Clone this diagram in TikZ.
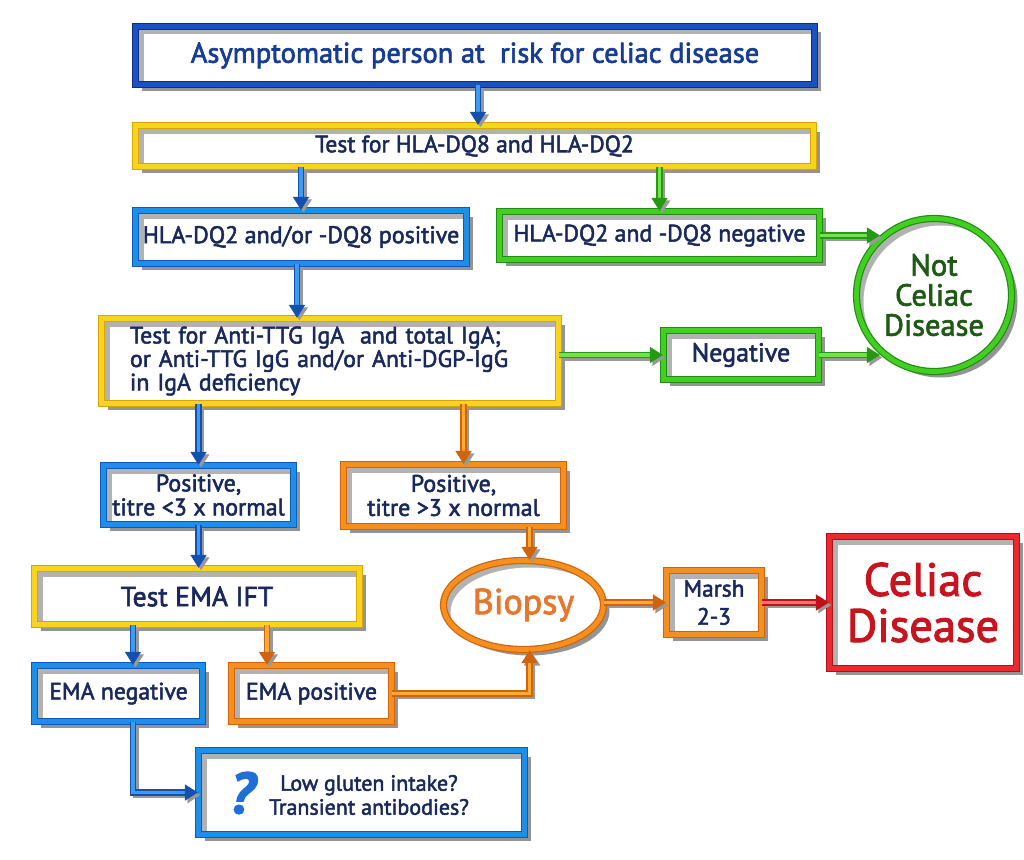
\documentclass[tikz,border=0pt]{standalone}
\usepackage{fontspec}
\setmainfont{PT Sans}[FakeBold=2.2]
\usetikzlibrary{arrows.meta,shapes.geometric,calc,shadows}
\definecolor{navy}{HTML}{19295C}
\definecolor{topblueB}{HTML}{1A52C2}
\definecolor{topblueD}{HTML}{0B2E86}
\definecolor{blueB}{HTML}{1E8EEB}
\definecolor{blueD}{HTML}{0C5BB8}
\definecolor{yelB}{HTML}{FAD320}
\definecolor{yelD}{HTML}{D9A600}
\definecolor{grnB}{HTML}{42CF22}
\definecolor{grnD}{HTML}{1E8E10}
\definecolor{orgB}{HTML}{F5901F}
\definecolor{orgD}{HTML}{D2620C}
\definecolor{redB}{HTML}{EA2A2E}
\definecolor{redD}{HTML}{B0101A}
\definecolor{blueL}{HTML}{3C9CF2}
\definecolor{blueA}{HTML}{1450B0}
\definecolor{grnL}{HTML}{74E24C}
\definecolor{grnA}{HTML}{239A12}
\definecolor{orgL}{HTML}{FFAA35}
\definecolor{orgA}{HTML}{D0640C}
\definecolor{redL}{HTML}{FF7070}
\definecolor{redA}{HTML}{C01018}
\definecolor{topText}{HTML}{163C95}
\definecolor{grnText}{HTML}{1E5A14}
\definecolor{orgText}{HTML}{E8772E}
\definecolor{redText}{HTML}{C8141E}
\definecolor{qBlue}{HTML}{1F6FD6}
\newcommand\fsz[2]{\fontsize{#1}{#2}\selectfont}
\tikzset{
  box/.style={rectangle, draw=#1D, double=#1B, line width=1.2pt, double distance=4.8pt,
    fill=white, inner sep=0pt, text=navy, align=center,
    drop shadow={shadow xshift=6pt, shadow yshift=-6pt, fill=black!42, opacity=1},
    path picture={\fill[black!30] (path picture bounding box.south west) rectangle (path picture bounding box.north east);
      \fill[white] ([shift={(8pt,-8pt)}]path picture bounding box.north west) rectangle (path picture bounding box.south east);}},
  ell/.style n args={3}{ellipse, draw=#1D, double=#1B, line width=1.2pt, double distance=4.8pt,
    fill=white, inner sep=0pt, align=center, minimum width=#2, minimum height=#3,
    drop shadow={shadow xshift=6pt, shadow yshift=-6pt, fill=black!42, opacity=1},
    path picture={\fill[black!30] (path picture bounding box.south west) rectangle (path picture bounding box.north east);
      \fill[white] ([shift={(7pt,-7pt)}]path picture bounding box.center) ellipse [x radius=#2/2, y radius=#3/2];}},
  conn/.style={draw=#1A, double=#1L, line width=1.2pt, double distance=3.8pt,
    -{Triangle[length=13pt,width=16pt]},
    preaction={draw=black!40, line width=6pt, transform canvas={shift={(2.5pt,-2.5pt)}}}},
}
\begin{document}
\begin{tikzpicture}[x=1pt,y=-1pt]
\useasboundingbox (0,0) rectangle (1024,859);
% boxes
\node[box=topblue, minimum width=679pt, minimum height=58pt, text=topText, font=\fsz{28.5}{32}] (b1) at (475,55.5) {Asymptomatic person at~ risk for celiac disease};
\node[box=yel, minimum width=678pt, minimum height=41pt, font=\fsz{23.6}{26}] (b2) at (474.5,146) {Test for HLA-DQ8 and HLA-DQ2};
\node[box=blue, minimum width=331pt, minimum height=53pt, font=\fsz{24}{26}] (b3) at (301,237) {HLA-DQ2 and/or -DQ8 positive};
\node[box=grn, minimum width=320pt, minimum height=48pt, font=\fsz{23.8}{26}] (b4) at (659.5,235.5) {HLA-DQ2 and -DQ8 negative};
\node[ell={grn}{155pt}{153pt}, text=grnText, font=\fsz{30.5}{30}] (circ) at (934,295) {Not\\Celiac\\Disease};
\node[box=yel, minimum width=457pt, minimum height=85pt, font=\fsz{23.8}{23.5}, align=left, text width=400pt] (b5) at (330,361) {Test for Anti-TTG IgA~ and total IgA;\\or Anti-TTG IgG and/or Anti-DGP-IgG\\in IgA deficiency};
\node[box=grn, minimum width=155pt, minimum height=49pt, font=\fsz{26}{26}] (b6) at (741,355) {Negative};
\node[box=blue, minimum width=190pt, minimum height=59pt, font=\fsz{24}{24}] (b7) at (198.5,495) {Positive,\\titre <3 x normal};
\node[box=org, minimum width=220pt, minimum height=62pt, font=\fsz{24}{24}] (b8) at (453.5,495.5) {Positive,\\titre >3 x normal};
\node[box=yel, minimum width=325pt, minimum height=56pt, font=\fsz{27.7}{30}] (b9) at (197,596.5) {Test EMA IFT};
\node[ell={org}{160pt}{89pt}, text=orgText, font=\fsz{36}{38}] (bio) at (523.5,605) {Biopsy};
\node[box=org, minimum width=95pt, minimum height=64pt, font=\fsz{23.5}{28}] (marsh) at (714,602.5) {Marsh\\2-3};
\node[box=red, minimum width=187pt, minimum height=132pt, text=redText, font=\fsz{46.5}{46}] (cel) at (923,602.5) {Celiac\\Disease};
\node[box=blue, minimum width=168pt, minimum height=56pt, font=\fsz{23.7}{26}] (b10) at (118.5,693.5) {EMA negative};
\node[box=org, minimum width=160pt, minimum height=56pt, font=\fsz{23.7}{26}] (b11) at (311.5,693.5) {EMA positive};
\node[box=blue, minimum width=326pt, minimum height=84pt] (b12) at (361.5,792.5) {};
\node[text=qBlue, font=\fsz{58}{58}\bfseries\itshape] (q) at (242,793) {?};
\node[text=navy, font=\fsz{22}{24}, align=center] (t12) at (369,795) {Low gluten intake?\\Transient antibodies?};
% connectors
\draw[conn=blue] ([xshift=3pt]b1.south) -- ([xshift=3pt]b1.south |- b2.north);
\draw[conn=blue] (b3.north |- b2.south) -- (b3.north);
\draw[conn=grn] (b4.north |- b2.south) -- (b4.north);
\draw[conn=grn] (b4.east) -- ($(b4.east -| circ.west)+(24,0)$);
\draw[conn=blue] ([xshift=-4pt]b3.south) -- ([xshift=-4pt]b3.south |- b5.north);
\draw[conn=grn] (b5.east |- b6.west) -- (b6.west);
\draw[conn=grn] (b6.east) -- ($(b6.east -| circ.west)+(24,0)$);
\draw[conn=blue] (b7.north |- b5.south) -- (b7.north);
\draw[conn=org] ([xshift=10pt]b8.north |- b5.south) -- ([xshift=10pt]b8.north);
\draw[conn=blue] (b7.south) -- (b7.south |- b9.north);
\draw[conn=org] ([xshift=6pt]bio.north |- b8.south) -- ([xshift=6pt]bio.north);
\draw[conn=org] (b11.east) -| ([xshift=6pt]bio.south);
\draw[conn=blue] ([xshift=14.5pt]b10.north |- b9.south) -- ([xshift=14.5pt]b10.north);
\draw[conn=org] ([xshift=-44.5pt]b11.north |- b9.south) -- ([xshift=-44.5pt]b11.north);
\draw[conn=blue] ([xshift=14.5pt]b10.south) |- (b12.west);
\draw[conn=org] (bio.east |- marsh.west) -- (marsh.west);
\draw[conn=red] (marsh.east) -- (cel.west);
\end{tikzpicture}
\end{document}
